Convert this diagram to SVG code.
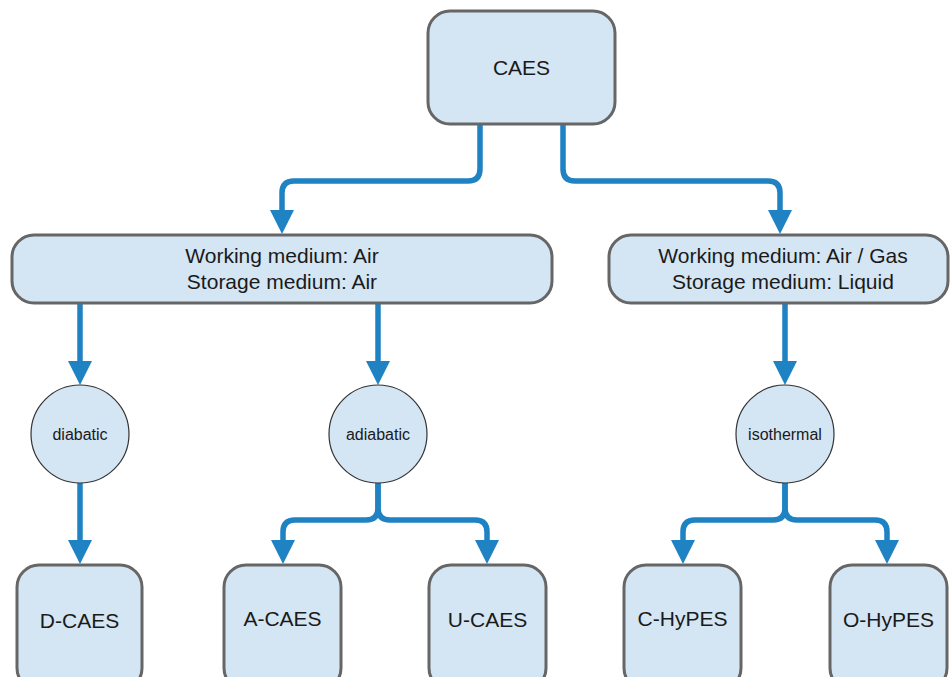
<svg xmlns="http://www.w3.org/2000/svg" width="950" height="677" viewBox="0 0 950 677">
<style>
.box{fill:#d4e5f4;stroke:#666666;stroke-width:3}
.circ{fill:#d4e5f4;stroke:#333333;stroke-width:1.2}
.t{font-family:"Liberation Sans",Arial,sans-serif;font-size:21px;fill:#1a1a1a;text-anchor:middle}
.s{font-family:"Liberation Sans",Arial,sans-serif;font-size:16px;fill:#1a1a1a;text-anchor:middle}
.c{fill:none;stroke:#1f82c3;stroke-width:5.5;marker-end:url(#ah)}
</style>
<defs>
<marker id="ah" markerUnits="userSpaceOnUse" markerWidth="24" markerHeight="26" refX="1" refY="12" orient="auto">
<path d="M0,0 L24,12 L0,24 Z" fill="#1f82c3"/>
</marker>
</defs>
<rect width="950" height="677" fill="#ffffff"/>
<g id="connectors">
<path class="c" d="M480,124 V169 Q480,181 468,181 H294 Q282,181 282,193 V211"/>
<path class="c" d="M563,124 V169 Q563,181 575,181 H768 Q780,181 780,193 V211"/>
<path class="c" d="M80,303 V362"/>
<path class="c" d="M378,303 V362"/>
<path class="c" d="M785,303 V362"/>
<path class="c" d="M80,483 V541"/>
<path class="c" d="M378,483 V508 Q378,520 366,520 H295 Q283,520 283,532 V541"/>
<path class="c" d="M378,483 V508 Q378,520 390,520 H475 Q487,520 487,532 V541"/>
<path class="c" d="M785,483 V508 Q785,520 773,520 H695 Q683,520 683,532 V541"/>
<path class="c" d="M785,483 V508 Q785,520 797,520 H875 Q887,520 887,532 V541"/>
</g>
<g id="caes"><rect class="box" x="428" y="11" width="187" height="113" rx="22"/><text class="t" x="521.5" y="75">CAES</text></g>
<g id="air"><rect class="box" x="12" y="235" width="540" height="68" rx="22"/><text class="t" x="282" y="263">Working medium: Air</text><text class="t" x="282" y="289">Storage medium: Air</text></g>
<g id="liquid"><rect class="box" x="609" y="235" width="339" height="68" rx="22"/><text class="t" x="783" y="263">Working medium: Air / Gas</text><text class="t" x="783" y="289">Storage medium: Liquid</text></g>
<g id="diabatic"><circle class="circ" cx="80" cy="434" r="49"/><text class="s" x="80" y="440">diabatic</text></g>
<g id="adiabatic"><circle class="circ" cx="378" cy="434" r="49"/><text class="s" x="378" y="440">adiabatic</text></g>
<g id="isothermal"><circle class="circ" cx="785" cy="434" r="49"/><text class="s" x="785" y="440">isothermal</text></g>
<g id="dcaes"><rect class="box" x="17" y="565" width="125" height="125" rx="22"/><text class="t" x="79.5" y="628">D-CAES</text></g>
<g id="acaes"><rect class="box" x="224" y="565" width="117" height="125" rx="22"/><text class="t" x="282.5" y="626">A-CAES</text></g>
<g id="ucaes"><rect class="box" x="429" y="565" width="117" height="125" rx="22"/><text class="t" x="487.5" y="627">U-CAES</text></g>
<g id="chypes"><rect class="box" x="624" y="565" width="117" height="125" rx="22"/><text class="t" x="682.5" y="626">C-HyPES</text></g>
<g id="ohypes"><rect class="box" x="830" y="565" width="117" height="125" rx="22"/><text class="t" x="888.5" y="627">O-HyPES</text></g>
</svg>
